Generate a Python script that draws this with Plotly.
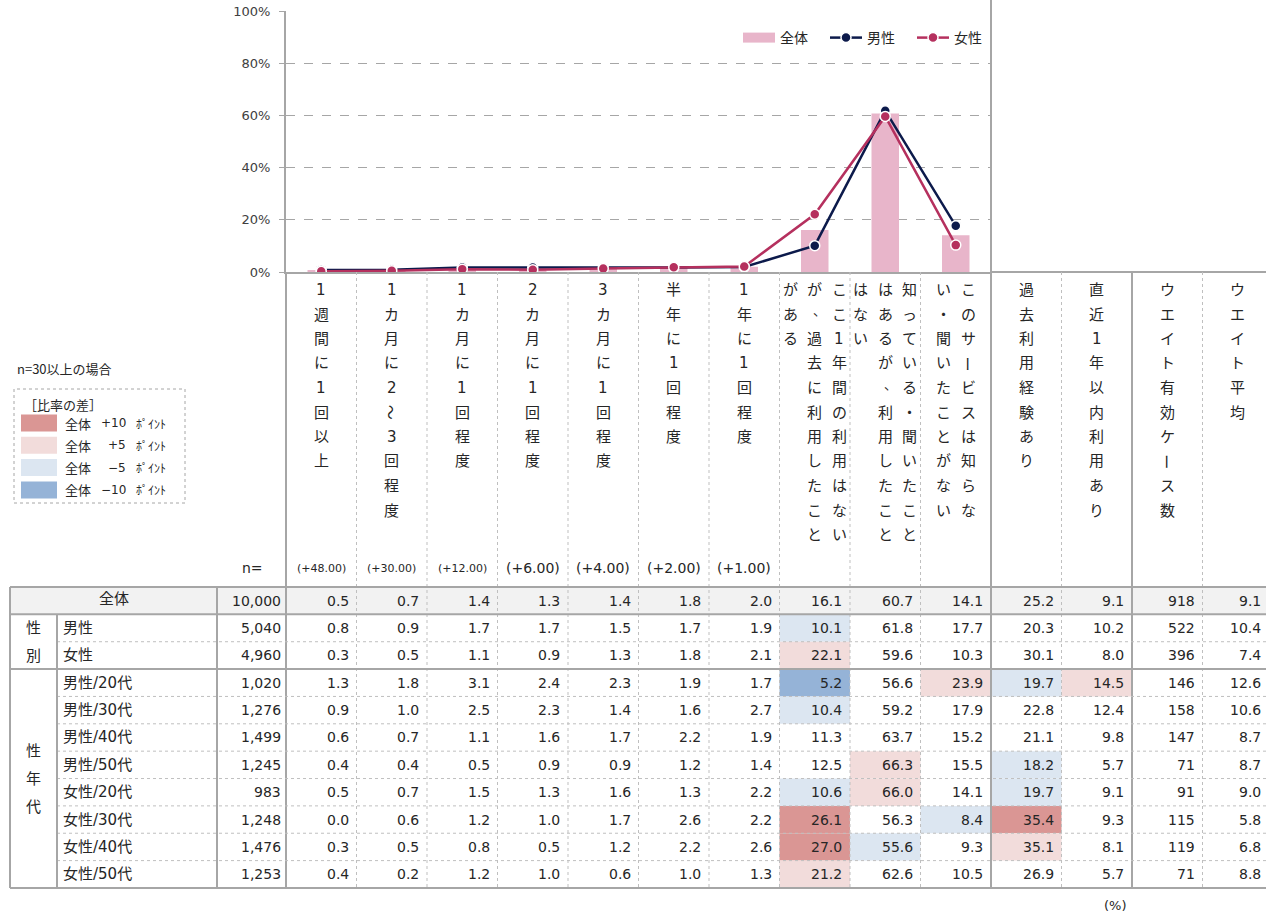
import plotly.graph_objects as go

# ---------------- data ----------------
categories = [
    "1週間に1回以上", "1カ月に2～3回程度", "1カ月に1回程度", "2カ月に1回程度",
    "3カ月に1回程度", "半年に1回程度", "1年に1回程度",
    "ここ1年間の利用はないが、過去に利用したことがある",
    "知っている・聞いたことはあるが、利用したことはない",
    "このサービスは知らない・聞いたことがない",
]
extra_columns = ["過去利用経験あり", "直近1年以内利用あり", "ウエイト有効ケース数", "ウエイト平均"]
# vertical header lines (read right to left)
header_wrap = [[c] for c in categories[:7]] + [
    ["ここ1年間の利用はない", "が、過去に利用したこと", "がある"],
    ["知っている・聞いたこと", "はあるが、利用したこと", "はない"],
    ["このサービスは知らな", "い・聞いたことがない"],
] + [[c] for c in extra_columns]
weight_labels = ["(+48.00)", "(+30.00)", "(+12.00)", "(+6.00)", "(+4.00)", "(+2.00)", "(+1.00)"]

series_total = [0.5, 0.7, 1.4, 1.3, 1.4, 1.8, 2.0, 16.1, 60.7, 14.1]
series_male = [0.8, 0.9, 1.7, 1.7, 1.5, 1.7, 1.9, 10.1, 61.8, 17.7]
series_female = [0.3, 0.5, 1.1, 0.9, 1.3, 1.8, 2.1, 22.1, 59.6, 10.3]
y_ticks = [0, 20, 40, 60, 80, 100]

row_labels = ["全体", "男性", "女性", "男性/20代", "男性/30代", "男性/40代", "男性/50代",
              "女性/20代", "女性/30代", "女性/40代", "女性/50代"]
row_groups = [("性別", 1, 2), ("性年代", 3, 10)]
row_n = [10000, 5040, 4960, 1020, 1276, 1499, 1245, 983, 1248, 1476, 1253]
table_values = [
    [0.5, 0.7, 1.4, 1.3, 1.4, 1.8, 2.0, 16.1, 60.7, 14.1, 25.2, 9.1, 918, 9.1],
    [0.8, 0.9, 1.7, 1.7, 1.5, 1.7, 1.9, 10.1, 61.8, 17.7, 20.3, 10.2, 522, 10.4],
    [0.3, 0.5, 1.1, 0.9, 1.3, 1.8, 2.1, 22.1, 59.6, 10.3, 30.1, 8.0, 396, 7.4],
    [1.3, 1.8, 3.1, 2.4, 2.3, 1.9, 1.7, 5.2, 56.6, 23.9, 19.7, 14.5, 146, 12.6],
    [0.9, 1.0, 2.5, 2.3, 1.4, 1.6, 2.7, 10.4, 59.2, 17.9, 22.8, 12.4, 158, 10.6],
    [0.6, 0.7, 1.1, 1.6, 1.7, 2.2, 1.9, 11.3, 63.7, 15.2, 21.1, 9.8, 147, 8.7],
    [0.4, 0.4, 0.5, 0.9, 0.9, 1.2, 1.4, 12.5, 66.3, 15.5, 18.2, 5.7, 71, 8.7],
    [0.5, 0.7, 1.5, 1.3, 1.6, 1.3, 2.2, 10.6, 66.0, 14.1, 19.7, 9.1, 91, 9.0],
    [0.0, 0.6, 1.2, 1.0, 1.7, 2.6, 2.2, 26.1, 56.3, 8.4, 35.4, 9.3, 115, 5.8],
    [0.3, 0.5, 0.8, 0.5, 1.2, 2.2, 2.6, 27.0, 55.6, 9.3, 35.1, 8.1, 119, 6.8],
    [0.4, 0.2, 1.2, 1.0, 0.6, 1.0, 1.3, 21.2, 62.6, 10.5, 26.9, 5.7, 71, 8.8],
]
diff_legend = [("+10", "#DA9694"), ("+5", "#F2DCDB"), ("−5", "#DCE6F1"), ("−10", "#95B3D7")]

# ---------------- layout constants (screen pixels) ----------------
W, H = 1266, 913
FONT = "DejaVu Sans, Noto Sans CJK JP, sans-serif"
JFONT = "Noto Sans CJK JP, DejaVu Sans, sans-serif"
TXT = "#262626"
SOLID = "#A6A6A6"
DOT = "#BFBFBF"
BAR_COLOR, MALE_COLOR, FEMALE_COLOR = "#E8B5CA", "#0C1A4B", "#B5305E"
X_LEFT, X_GROUP, X_N, X_DATA = 10, 57, 217, 286
COLW = 70.5
col_edges = [X_DATA + i * COLW for i in range(len(header_wrap) + 1)]
X_RIGHT = 1269
CHART_TOP, CHART_BOTTOM = 11, 272
TABLE_TOP, ROW_H = 587, 27.36
row_edges = [TABLE_TOP + i * ROW_H for i in range(len(row_labels) + 1)]
HDR_Y0, HDR_STEP, SUB_STEP = 290, 24.5, 24.5


def X(px):
    return px / W


def Y(py):
    return 1 - py / H


shapes, annotations = [], []


def hline(y, x0, x1, solid=True):
    shapes.append(dict(type="line", xref="paper", yref="paper", x0=X(x0), x1=X(x1), y0=Y(y), y1=Y(y),
                       line=dict(color=SOLID if solid else DOT, width=2 if solid else 1,
                                 dash="solid" if solid else "dot")))


def vline(x, y0, y1, solid=True):
    shapes.append(dict(type="line", xref="paper", yref="paper", x0=X(x), x1=X(x), y0=Y(y0), y1=Y(y1),
                       line=dict(color=SOLID if solid else DOT, width=2 if solid else 1,
                                 dash="solid" if solid else "dot")))


def rect(x0, y0, x1, y1, color):
    shapes.append(dict(type="rect", xref="paper", yref="paper", x0=X(x0), x1=X(x1), y0=Y(y1), y1=Y(y0),
                       fillcolor=color, layer="below", line=dict(width=0, color=color)))


def text(x, y, s, size=14, anchor="center", family=FONT, angle=0, xs=0, ys=0, color=TXT):
    annotations.append(dict(x=X(x), y=Y(y), xref="paper", yref="paper", text=s, showarrow=False,
                            xanchor=anchor, yanchor="middle", textangle=angle, xshift=xs, yshift=ys,
                            font=dict(size=size, family=family, color=color)))


def diff_color(d):
    d = round(d, 1)
    if d >= 10:
        return diff_legend[0][1]
    if d >= 5:
        return diff_legend[1][1]
    if d <= -10:
        return diff_legend[3][1]
    if d <= -5:
        return diff_legend[2][1]
    return None


# ---------------- chart ----------------
fig = go.Figure()
fig.add_trace(go.Bar(x=categories, y=series_total, name="全体", legendgroup="total", showlegend=False,
                     marker=dict(color=BAR_COLOR, line=dict(width=0))))
# legend key for the bar series (wide swatch, as in the reference)
fig.add_trace(go.Scatter(x=[None], y=[None], name="全体", legendgroup="total", mode="lines",
                         line=dict(color=BAR_COLOR, width=11)))
fig.add_trace(go.Scatter(x=categories, y=series_male, name="男性", mode="lines+markers",
                         line=dict(color=MALE_COLOR, width=2.5),
                         marker=dict(size=10, color=MALE_COLOR, line=dict(color="white", width=1.5))))
fig.add_trace(go.Scatter(x=categories, y=series_female, name="女性", mode="lines+markers",
                         line=dict(color=FEMALE_COLOR, width=2.5),
                         marker=dict(size=10, color=FEMALE_COLOR, line=dict(color="white", width=1.5))))

# ---------------- table: fills ----------------
rect(X_LEFT, row_edges[0], X_RIGHT, row_edges[1], "#F2F2F2")
for r in range(1, len(row_labels)):
    for c in range(12):
        col = diff_color(table_values[r][c] - table_values[0][c])
        if col:
            rect(col_edges[c], row_edges[r], col_edges[c + 1], row_edges[r + 1], col)

# ---------------- table: lines ----------------
hline(CHART_BOTTOM, col_edges[10], X_RIGHT)
solid_cols = {0, 10, 12}
for i, x in enumerate(col_edges[:-1]):
    vline(x, CHART_BOTTOM, row_edges[-1], i in solid_cols)
vline(col_edges[10], 0, CHART_BOTTOM)
for i, y in enumerate(row_edges):
    if i in (0, 1, 3, len(row_edges) - 1):
        hline(y, X_LEFT, X_RIGHT)
    else:
        hline(y, X_GROUP, X_RIGHT, False)
vline(X_LEFT, row_edges[0], row_edges[-1])
vline(X_N, row_edges[0], row_edges[-1])
vline(X_GROUP, row_edges[1], row_edges[-1])

# ---------------- table: header ----------------
for j, lines in enumerate(header_wrap):
    cx = (col_edges[j] + col_edges[j + 1]) / 2
    k = len(lines)
    for m, ln in enumerate(lines):
        x = cx + ((k - 1) / 2 - m) * SUB_STEP
        for r, ch in enumerate(ln):
            y = HDR_Y0 + r * HDR_STEP
            if ch in "ー～":
                text(x, y, ch, 15, family=JFONT, angle=90)
            elif ch in "、。":
                text(x, y, ch, 13, family=JFONT, xs=5, ys=5)
            else:
                text(x, y, ch, 15, family=FONT)
for j, wl in enumerate(weight_labels):
    cx = (col_edges[j] + col_edges[j + 1]) / 2
    text(cx, 568, wl, 11 if j < 3 else 14)
text(252, 568, "n=", 14)

# ---------------- table: body ----------------
for r, lab in enumerate(row_labels):
    yc = (row_edges[r] + row_edges[r + 1]) / 2
    if r == 0:
        text((X_LEFT + X_N) / 2, yc - 2, lab, 15)
    else:
        text(X_GROUP + 4, yc, lab, 15, anchor="left")
    text(X_DATA - 3, yc, f"{row_n[r]:,}", 14, anchor="right")
    for c, v in enumerate(table_values[r]):
        s = f"{v:.0f}" if c == 12 else f"{v:.1f}"
        text(min(col_edges[c + 1], X_RIGHT) - 6, yc, s, 14, anchor="right")
for g, r0, r1 in row_groups:
    yc = (row_edges[r0] + row_edges[r1 + 1]) / 2
    n = len(g)
    for i, ch in enumerate(g):
        text((X_LEFT + X_GROUP) / 2, yc + (i - (n - 1) / 2) * 28, ch, 15)

# ---------------- left legend ----------------
text(15, 368, "n=30以上の場合", 13, anchor="left", family=JFONT)
shapes.append(dict(type="rect", xref="paper", yref="paper", x0=X(14), x1=X(185), y0=Y(503), y1=Y(389),
                   line=dict(color=SOLID, width=1, dash="dot"), fillcolor="rgba(0,0,0,0)"))
text(22, 405, "［比率の差］", 13, anchor="left", family=JFONT)
for i, (lab, col) in enumerate(diff_legend):
    yc = 423 + i * 22.3
    rect(21, yc - 8.5, 57, yc + 8.5, col)
    text(63, yc, "全体", 13, anchor="left", family=JFONT)
    text(128, yc, lab, 12, anchor="right")
    text(134, yc, "ﾎﾟｲﾝﾄ", 12, anchor="left", family=JFONT)

text(1115, 905, "(%)", 13)

# ---------------- layout ----------------
fig.update_layout(
    template="none",
    width=W, height=H,
    margin=dict(l=0, r=0, t=0, b=0),
    paper_bgcolor="white", plot_bgcolor="rgba(0,0,0,0)",
    bargap=0.61,
    showlegend=True,
    legend=dict(orientation="h", x=X(999), xanchor="right", y=Y(38), yanchor="middle",
                entrywidth=40, itemwidth=32,
                font=dict(size=14, family=JFONT, color=TXT), bgcolor="rgba(0,0,0,0)"),
    xaxis=dict(domain=[X(X_DATA), X(col_edges[10])], type="category", categoryorder="array",
               categoryarray=categories, range=[-0.5, len(categories) - 0.5], showticklabels=False,
               ticks="", showgrid=False, zeroline=False, showline=True, linecolor=SOLID, linewidth=2,
               automargin=False, fixedrange=True),
    yaxis=dict(domain=[Y(CHART_BOTTOM), Y(CHART_TOP)], range=[0, 100], tickvals=y_ticks,
               ticktext=[f"{v}%" for v in y_ticks], ticks="outside", ticklen=5, tickcolor=SOLID,
               showgrid=True, gridcolor=SOLID, griddash="dash", gridwidth=1, zeroline=False,
               showline=True, linecolor=SOLID, linewidth=2, ticklabelstandoff=6,
               ticklabeloverflow="allow",
               tickfont=dict(size=13, family=FONT, color="#404040"), automargin=False, fixedrange=True),
    shapes=shapes,
    annotations=annotations,
)

# the page body margin is removed so that the figure sits at the window's top-left corner
fig.write_html("out.html", config={"displayModeBar": False},
               post_script="document.body.style.margin='0px';")
